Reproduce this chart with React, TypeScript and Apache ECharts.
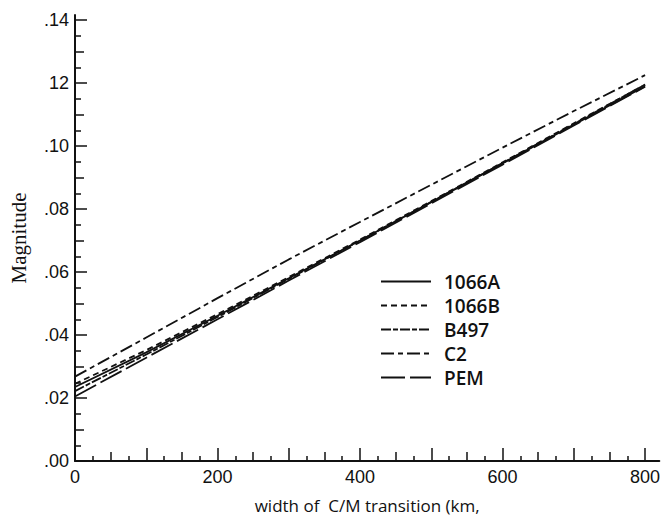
import { useEffect, useRef } from "react";
import * as echarts from "echarts";

// width of C/M transition (km)
const widths = [0, 100, 200, 300, 400, 500, 600, 700, 800];

// Magnitude values for each model
const s1066A = [0.0235, 0.0345, 0.0461, 0.058, 0.07, 0.0822, 0.0945, 0.1068, 0.119];
const s1066B = [0.0245, 0.0352, 0.0466, 0.0584, 0.0703, 0.0825, 0.0948, 0.1072, 0.1195];
const sB497 = [0.0222, 0.0338, 0.0457, 0.0578, 0.07, 0.0823, 0.0946, 0.107, 0.1195];
const sC2 = [0.0268, 0.0392, 0.0517, 0.064, 0.0759, 0.0877, 0.0995, 0.1111, 0.1225];
const sPEM = [0.0205, 0.0328, 0.045, 0.0573, 0.0695, 0.0818, 0.0941, 0.1065, 0.1188];

const seriesNames = ["1066A", "1066B", "B497", "C2", "PEM"];

// tick labels
const yLabelValues = [0, 0.02, 0.04, 0.06, 0.08, 0.1, 0.12, 0.14];
const yTickLabels = [".00", ".02", ".04", ".06", ".08", ".10", "12", ".14"];
const yMidTicks = [0.01, 0.03, 0.05, 0.07, 0.09, 0.11, 0.13];
const ySmallTicks = [0.005, 0.015, 0.025, 0.035, 0.045, 0.055, 0.065, 0.075, 0.085, 0.095, 0.105, 0.115, 0.125, 0.135];
const xLabelValues = [0, 200, 400, 600, 800];
const xMajorTicks = [0, 100, 200, 300, 400, 500, 600, 700, 800];
const xMidTicks = [50, 150, 250, 350, 450, 550, 650, 750];
const xSmallTicks = [25, 75, 125, 175, 225, 275, 325, 375, 425, 475, 525, 575, 625, 675, 725, 775];

const INK = "#111";

export default function App() {
  const ref = useRef<HTMLDivElement>(null);
  useEffect(() => {
    if (!ref.current) return;
    const chart = echarts.init(ref.current, undefined, { renderer: "svg" });
    const pair = (arr: number[]) => widths.map((w, i) => [w, arr[i]]);
    const X_MAX = 820;
    const Y_MAX = 0.1416;
    const baseX = (extra: any) => ({
      type: "value",
      min: 0,
      max: X_MAX,
      position: "bottom",
      offset: 0,
      splitLine: { show: false },
      axisLine: { show: false },
      axisLabel: { show: false },
      ...extra,
    });
    const baseY = (extra: any) => ({
      type: "value",
      min: 0,
      max: Y_MAX,
      position: "left",
      offset: 0,
      splitLine: { show: false },
      axisLine: { show: false },
      axisLabel: { show: false },
      ...extra,
    });
    const dashes: Record<string, any> = {
      "1066A": "solid",
      "1066B": [6, 4],
      B497: [10, 2, 5, 2],
      C2: [13, 4, 5, 4],
      PEM: [24, 5],
    };
    const dataMap: Record<string, number[]> = {
      "1066A": s1066A,
      "1066B": s1066B,
      B497: sB497,
      C2: sC2,
      PEM: sPEM,
    };
    chart.setOption({
      animation: false,
      backgroundColor: "#fff",
      grid: { left: 71, right: 2.6, top: 15, bottom: 58, containLabel: false },
      legend: {
        orient: "vertical",
        left: 375,
        top: 266,
        itemWidth: 50,
        itemHeight: 14,
        itemGap: 3,
        data: seriesNames,
        itemStyle: { opacity: 0, color: "rgba(0,0,0,0)", borderWidth: 0 },
        textStyle: {
          fontFamily: "'Open Sans', Lato, sans-serif",
          fontSize: 19,
          fontWeight: 600,
          color: INK,
          lineHeight: 21,
          padding: [0, 0, 0, 8],
        },
      },
      xAxis: [
        baseX({
          axisLine: { show: true, lineStyle: { color: INK, width: 2 } },
          axisTick: {
            show: true,
            inside: true,
            length: 13,
            customValues: xMajorTicks,
            lineStyle: { color: INK, width: 1.5 },
          },
          axisLabel: {
            show: true,
            customValues: xLabelValues,
            fontFamily: "'Liberation Sans', Arial, sans-serif",
            fontSize: 18,
            color: INK,
            margin: 7,
          },
          name: "width of  C/M transition (km,",
          nameLocation: "middle",
          nameGap: 36,
          nameTextStyle: {
            fontFamily: "'Open Sans', Lato, sans-serif",
            fontSize: 17,
            color: INK,
          },
        }),
        baseX({
          axisTick: {
            show: true,
            inside: true,
            length: 9,
            customValues: xMidTicks,
            lineStyle: { color: INK, width: 1.5 },
          },
        }),
        baseX({
          axisTick: {
            show: true,
            inside: true,
            length: 5,
            customValues: xSmallTicks,
            lineStyle: { color: INK, width: 1.5 },
          },
        }),
      ],
      yAxis: [
        baseY({
          axisLine: { show: true, lineStyle: { color: INK, width: 2 } },
          axisTick: {
            show: true,
            inside: true,
            length: 12,
            customValues: yLabelValues,
            lineStyle: { color: INK, width: 1.5 },
          },
          axisLabel: {
            show: true,
            customValues: yLabelValues,
            formatter: (v: number) => yTickLabels[Math.round(v / 0.02)] ?? "",
            fontFamily: "'Liberation Sans', Arial, sans-serif",
            fontSize: 18,
            color: INK,
            margin: 6,
          },
          name: "Magnitude",
          nameLocation: "middle",
          nameGap: 46,
          nameRotate: 90,
          nameTextStyle: {
            fontFamily: "'Liberation Serif', 'Times New Roman', serif",
            fontSize: 21,
            color: INK,
          },
        }),
        baseY({
          axisTick: {
            show: true,
            inside: true,
            length: 9,
            customValues: yMidTicks,
            lineStyle: { color: INK, width: 1.5 },
          },
        }),
        baseY({
          axisTick: {
            show: true,
            inside: true,
            length: 6,
            customValues: ySmallTicks,
            lineStyle: { color: INK, width: 1.5 },
          },
        }),
      ],
      series: seriesNames.map((name) => ({
        name,
        type: "line",
        xAxisIndex: 0,
        yAxisIndex: 0,
        symbol: "none",
        showSymbol: false,
        data: pair(dataMap[name]),
        lineStyle: { color: INK, width: 1.8, type: dashes[name] },
        itemStyle: { color: INK },
      })),
    });
    return () => chart.dispose();
  }, []);
  return (
    <div
      ref={ref}
      style={{ position: "fixed", left: 0, top: 0, width: 663, height: 519, background: "#fff" }}
    />
  );
}
